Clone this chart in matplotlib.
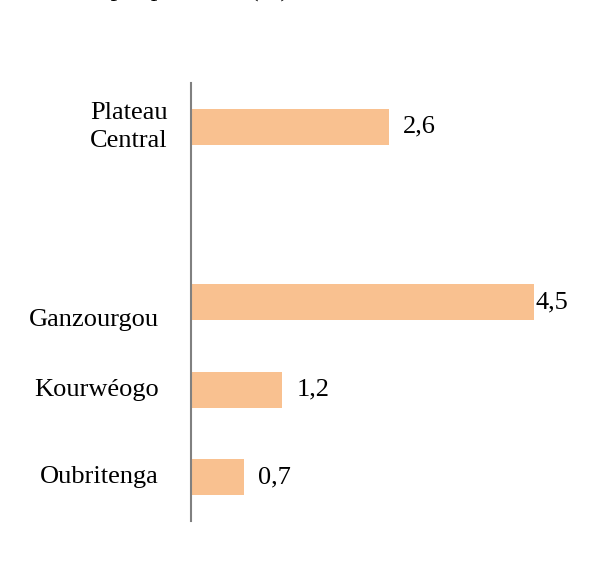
import matplotlib.pyplot as plt

# data (slot 1 is an empty gap in the original)
provinces = ["Plateau\nCentral", "", "Ganzourgou", "Kourwéogo", "Oubritenga"]
values = [2.6, None, 4.5, 1.2, 0.7]
value_labels = ["2,6", "", "4,5", "1,2", "0,7"]

plt.rcParams['font.family'] = ['Liberation Serif', 'DejaVu Serif']

fig = plt.figure(figsize=(5.99, 5.61), dpi=100)
ax = fig.add_axes([191 / 599, 1 - 521 / 561, 404 / 599, 438 / 561])

bar_color = "#F9C190"
for i, (name, v, lab) in enumerate(zip(provinces, values, value_labels)):
    if v is None:
        continue
    ax.barh(i, v, height=0.41, color=bar_color, left=0)
    # value label, the 4,5 one sits right against the bar end
    gap = 0.02 if v > 4 else 0.18
    ax.text(v + gap, i, lab, va='center', ha='left', fontsize=19)

ax.set_xlim(0, 5.3)
ax.set_ylim(len(provinces) - 0.5, -0.5)

# category names drawn by hand; Ganzourgou sits a bit lower than its bar
for i, name in enumerate(provinces):
    if not name:
        continue
    dy = 0.2 if name == "Ganzourgou" else 0.0
    ax.text(-0.31 if "\n" in name else -0.42, i + dy, name, ha='right', va='center',
            fontsize=19, linespacing=1.38, multialignment='right')

ax.set_xticks([])
ax.set_yticks([])
for s in ["top", "right", "bottom"]:
    ax.spines[s].set_visible(False)
ax.spines["left"].set_color("#808080")
ax.spines["left"].set_linewidth(1.5)

# title is cut off at the top of the original image, only descenders show
fig.text(113 / 599 - 0.394, 1 + 3 / 561, "Taux d'accroissement par province (%)",
         ha='left', va='baseline', fontsize=19)

fig.savefig("out.png", dpi=100)
